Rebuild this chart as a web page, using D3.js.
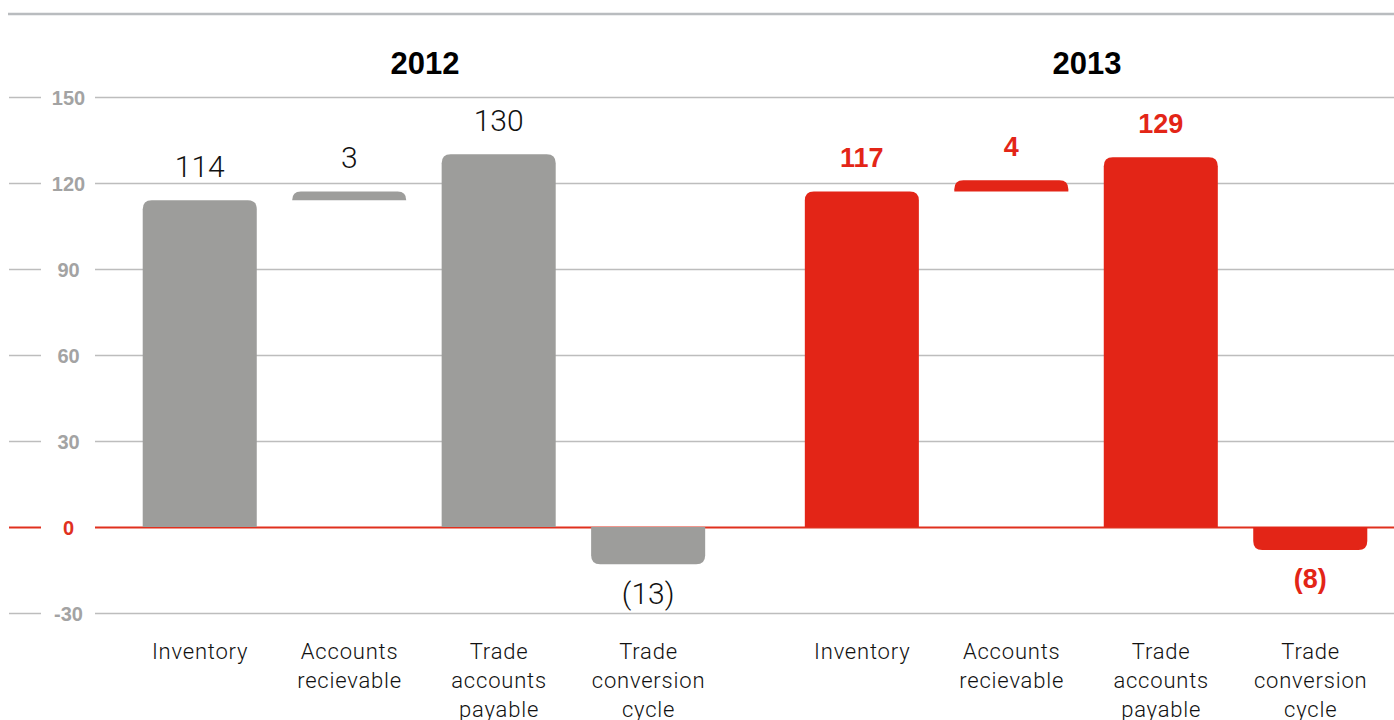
<!DOCTYPE html>
<html><head><meta charset="utf-8">
<script src="https://cdn.jsdelivr.net/npm/d3@7"></script>
<style>
html,body{margin:0;padding:0;background:#fff;}
svg{display:block;}
</style></head>
<body>
<script>
const years = ["2012", "2013"];
const categories = ["Inventory", "Accounts recievable", "Trade accounts payable", "Trade conversion cycle"];
const categoryLines = [["Inventory"], ["Accounts", "recievable"], ["Trade", "accounts", "payable"], ["Trade", "conversion", "cycle"]];
const values2012 = [114, 3, 130, -13];
const values2013 = [117, 4, 129, -8];
const labels2012 = ["114", "3", "130", "(13)"];
const labels2013 = ["117", "4", "129", "(8)"];
const yTicks = [150, 120, 90, 60, 30, 0, -30];

const W = 1394, H = 720;
const svg = d3.select("body").append("svg").attr("width", W).attr("height", H);

const y = d3.scaleLinear().domain([-30, 150]).range([613, 97]);
const xYear = d3.scaleBand().domain(years).range([125, 1385]).paddingInner(0.097).paddingOuter(0);
const xCat = d3.scaleBand().domain(categories).range([0, xYear.bandwidth()]).paddingInner(0.237).paddingOuter(0.1185);

const gray = "#9d9d9b", red = "#e32517";
const lightFont = "'Helvetica Neue', Roboto, 'Liberation Sans', Arial, sans-serif";
const boldFont = "'Liberation Sans', Arial, 'Helvetica Neue', sans-serif";

// top rule
svg.append("line").attr("x1", 8).attr("x2", W).attr("y1", 14).attr("y2", 14)
  .attr("stroke", "#b9bcbf").attr("stroke-width", 2.5);

// grid + ticks
const tickG = svg.append("g");
yTicks.forEach(t => {
  const col = t === 0 ? "#e0301e" : "#bdbdbd";
  const sw = t === 0 ? 2 : 1.5;
  const yy = Math.round(y(t)) + 0.5;
  tickG.append("line").attr("x1", 9).attr("x2", 41).attr("y1", yy).attr("y2", yy).attr("stroke", col).attr("stroke-width", sw);
  tickG.append("line").attr("x1", 95).attr("x2", W).attr("y1", yy).attr("y2", yy).attr("stroke", col).attr("stroke-width", sw);
  tickG.append("text").attr("x", 68.5).attr("y", yy).attr("dy", "0.36em").attr("text-anchor", "middle")
    .attr("font-family", boldFont).attr("font-weight", "bold").attr("font-size", 20)
    .attr("fill", t === 0 ? "#e0301e" : "#a3a3a3").text(t);
});

// rounded bar path: rounded on the end away from base
function barPath(x0, w, yStart, yEnd, r) {
  const up = yEnd < yStart;
  const h = Math.abs(yEnd - yStart);
  r = Math.min(r, h, w / 2);
  if (up) {
    return `M${x0},${yStart} L${x0},${yEnd + r} Q${x0},${yEnd} ${x0 + r},${yEnd} L${x0 + w - r},${yEnd} Q${x0 + w},${yEnd} ${x0 + w},${yEnd + r} L${x0 + w},${yStart} Z`;
  } else {
    return `M${x0},${yStart} L${x0},${yEnd - r} Q${x0},${yEnd} ${x0 + r},${yEnd} L${x0 + w - r},${yEnd} Q${x0 + w},${yEnd} ${x0 + w},${yEnd - r} L${x0 + w},${yStart} Z`;
  }
}

const series = [
  {year: "2012", values: values2012, labels: labels2012, color: gray, labelColor: "#111", weight: 300, font: lightFont, size: 30},
  {year: "2013", values: values2013, labels: labels2013, color: red, labelColor: red, weight: "bold", font: boldFont, size: 27}
];

series.forEach(s => {
  const gx = xYear(s.year);
  const g = svg.append("g").attr("transform", `translate(${gx},0)`);
  // year title
  svg.append("text").attr("x", gx + xYear.bandwidth() / 2 + 1).attr("y", 63).attr("dy", "0.36em")
    .attr("text-anchor", "middle").attr("font-family", boldFont).attr("font-weight", "bold")
    .attr("font-size", 31).attr("fill", "#000").text(s.year);
  s.values.forEach((v, i) => {
    const cat = categories[i];
    // Accounts receivable floats on top of inventory (waterfall step)
    const base = i === 1 ? s.values[0] : 0;
    const tip = base + v;
    const x0 = xCat(cat), w = xCat.bandwidth();
    g.append("path").attr("d", barPath(x0, w, y(base), y(tip), 9)).attr("fill", s.color);
    const cx = x0 + w / 2;
    const ly = v >= 0 ? y(tip) - 34 : y(tip) + 29;
    g.append("text").attr("x", cx).attr("y", ly).attr("dy", "0.35em").attr("text-anchor", "middle")
      .attr("font-family", s.font).attr("font-weight", s.weight).attr("font-size", s.size)
      .attr("fill", s.labelColor).text(s.labels[i]);
    const t = g.append("text").attr("text-anchor", "middle").attr("font-family", lightFont)
      .attr("font-weight", 300).attr("font-size", 22).attr("letter-spacing", 0.8).attr("fill", "#111");
    categoryLines[i].forEach((ln, k) => {
      t.append("tspan").attr("x", cx + 0.4).attr("y", 651 + k * 29).attr("dy", "0.36em").text(ln);
    });
  });
});
</script>
</body></html>
